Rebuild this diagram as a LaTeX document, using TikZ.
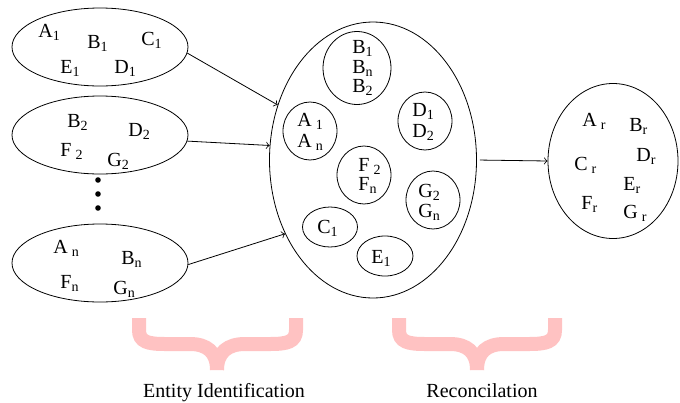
\documentclass[tikz,border=0pt]{standalone}
\usepackage{fontspec}
\setmainfont{Liberation Serif}
\usetikzlibrary{shapes.geometric}
\definecolor{bracepink}{rgb}{1,0.76,0.76}
\tikzstyle{set} = [ellipse,draw,inner sep=0pt]
\tikzstyle{elem} = [anchor=base west,inner sep=0pt]
\tikzstyle{dot} = [circle,fill,inner sep=0pt,minimum size=2.8pt]
\tikzstyle{brace} = [draw=bracepink,line width=7pt]
\tikzstyle{caption} = [anchor=base,inner sep=0pt]
\newcommand{\ix}[1]{\textsubscript{#1}}
\newcommand{\gap}{\hspace{2pt}}

\begin{document}
\begin{tikzpicture}[x=0.5pt,y=-0.5pt,font=\fontsize{10}{12}\selectfont]
		\useasboundingbox (0,0) rectangle (680,402);
		\node [set,minimum width=88pt,minimum height=39pt](s1) at (100,47){};
		\node [set,minimum width=88pt,minimum height=39pt](s2) at (100,135){};
		\node [set,minimum width=88pt,minimum height=39pt](sn) at (100,263){};
		\node [set,minimum width=103.5pt,minimum height=138pt](id) at (373,160){};
		\node [set,minimum width=65pt,minimum height=77.5pt](rc) at (613,161){};
		
		\node [elem](a1) at (38,37){A\ix{1}};
		\node [elem](b1) at (87,48){B\ix{1}};
		\node [elem](c1) at (141,45){C\ix{1}};
		\node [elem](e1) at (60,73){E\ix{1}};
		\node [elem](d1) at (114,73){D\ix{1}};
		
		\node [elem](b2) at (67,127){B\ix{2}};
		\node [elem](d2) at (128,136){D\ix{2}};
		\node [elem](f2) at (60,156){F\gap\ix{2}};
		\node [elem](g2) at (107,166){G\ix{2}};
		
		\node [dot](v1) at (98,180){};
		\node [dot](v2) at (98,194){};
		\node [dot](v3) at (98,208){};
		
		\node [elem](an) at (53,253){A\gap\ix{n}};
		\node [elem](bn) at (121,264){B\ix{n}};
		\node [elem](fn) at (60,288){F\ix{n}};
		\node [elem](gn) at (113,294){G\ix{n}};
		
		\node [set,minimum width=34pt,minimum height=36.5pt](bb) at (357,68){};
		\node [set,minimum width=27pt,minimum height=29pt](aa) at (310,131){};
		\node [set,minimum width=27pt,minimum height=29pt](dd) at (425,121){};
		\node [set,minimum width=27pt,minimum height=29pt](ff) at (364,175){};
		\node [set,minimum width=27pt,minimum height=29pt](gg) at (433,200){};
		\node [set,minimum width=27.5pt,minimum height=20pt](cc) at (330,227){};
		\node [set,minimum width=28pt,minimum height=20pt](ee) at (385,256){};
		
		\node [elem](bb1) at (352,53){B\ix{1}};
		\node [elem](bbn) at (352,73){B\ix{n}};
		\node [elem](bb2) at (352,92){B\ix{2}};
		\node [elem](aa1) at (297,126){A\gap\ix{1}};
		\node [elem](aan) at (297,147){A\gap\ix{n}};
		\node [elem](dd1) at (412,116){D\ix{1}};
		\node [elem](dd2) at (412,137){D\ix{2}};
		\node [elem](ff2) at (358,171){F\gap\ix{2}};
		\node [elem](ffn) at (358,190){F\ix{n}};
		\node [elem](gg2) at (418,197){G\ix{2}};
		\node [elem](ggn) at (418,217){G\ix{n}};
		\node [elem](cc1) at (317,233){C\ix{1}};
		\node [elem](ee1) at (371,263){E\ix{1}};
		
		\node [elem](ar) at (582,126){A\gap\ix{r}};
		\node [elem](br) at (629,131){B\ix{r}};
		\node [elem](dr) at (636,161){D\ix{r}};
		\node [elem](cr) at (574,170){C\gap\ix{r}};
		\node [elem](er) at (623,190){E\ix{r}};
		\node [elem](fr) at (581,209){F\ix{r}};
		\node [elem](gr) at (623,218){G\gap\ix{r}};
		
		\draw[->](s1.-4)--(id.150);
		\draw[->](s2.-4)--(id.172);
		\draw[->](sn.-1)--(id.220);
		\draw[->,shorten <=1.5pt](id.east)--(rc.west);
		
		\draw[brace](139,318)--(139,330) .. controls (139,342) and (148,344) .. (165,344)--(190,344) .. controls (207,344) and (217,352) .. (217,370)
		(296,318)--(296,330) .. controls (296,342) and (287,344) .. (270,344)--(245,344) .. controls (228,344) and (217,352) .. (217,370);
		\draw[brace](399,318)--(399,330) .. controls (399,342) and (408,344) .. (425,344)--(450,344) .. controls (467,344) and (477,352) .. (477,370)
		(555,318)--(555,330) .. controls (555,342) and (546,344) .. (529,344)--(504,344) .. controls (487,344) and (477,352) .. (477,370);
		
		\node [caption](ei) at (224,397){Entity Identification};
		\node [caption](rn) at (482,397){Reconcilation};
		\end{tikzpicture}
\end{document}
